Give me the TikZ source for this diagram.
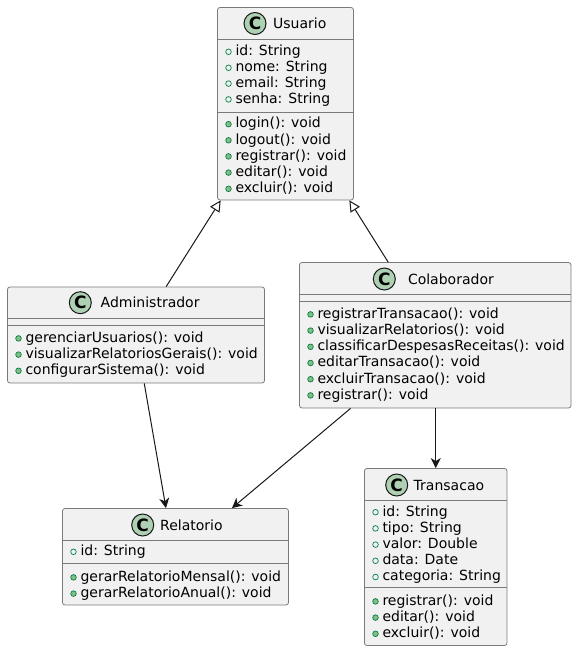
\documentclass[tikz,border=0pt]{standalone}
\usepackage{fontspec}
\setmainfont{DejaVu Sans}
\usetikzlibrary{arrows.meta,calc}
\definecolor{boxbg}{HTML}{F1F1F1}
\definecolor{boxline}{HTML}{181818}
\definecolor{frameline}{HTML}{7A7A7A}
\definecolor{iconbg}{HTML}{ADD1B2}
\definecolor{visgreen}{HTML}{038048}
\definecolor{visfill}{HTML}{84BE84}
\tikzset{
  classbox/.style={draw=frameline, fill=boxbg, line width=0.8pt, rounded corners=2.5pt, inner sep=0pt},
  sepline/.style={draw=frameline, line width=0.8pt},
  member/.style={anchor=base west, inner sep=0pt, font=\fontsize{14}{16}\selectfont, text=black},
  cname/.style={anchor=base west, inner sep=0pt, font=\fontsize{14}{16}\selectfont, text=black},
  cicon/.style={circle, draw=boxline, fill=iconbg, line width=1pt, minimum size=22pt, inner sep=0pt, font=\fontsize{17}{17}\selectfont\bfseries},
  attrmark/.style={draw=visgreen, line width=0.7pt, fill=none},
  methmark/.style={draw=visgreen, line width=0.7pt, fill=visfill},
  genline/.style={draw=boxline, line width=1pt, -{Triangle[open, length=11pt, width=11pt]}},
  assoc/.style={draw=boxline, line width=1pt, -{Stealth[length=10pt, width=10pt, inset=3pt]}},
}
\newcommand{\attrline}[4]{%
  \draw[attrmark] (#2+11,#3) circle (2.8);
  \node[member] (#1) at (#2+17.8,#3+3.8) {#4};}
\newcommand{\methline}[4]{%
  \draw[methmark] (#2+11,#3) circle (2.8);
  \node[member] (#1) at (#2+17.8,#3+3.8) {#4};}
\begin{document}
\begin{tikzpicture}[x=1pt, y=-1pt]
\useasboundingbox (0,0) rectangle (577,652);

% ---------- Usuario ----------
\node[classbox, minimum width=136pt, minimum height=192.5pt] (usu) at (285.5,103.75) {};
\draw[sepline] (217.5,39.5) -- (353.5,39.5);
\draw[sepline] (217.5,112.5) -- (353.5,112.5);
\node[cicon] (usuC) at (255,23.5) {C};
\node[cname] (usuN) at (273,28.6) {Usuario};
\attrline{u1}{217.5}{51.8}{id: String}
\attrline{u2}{217.5}{67.8}{nome: String}
\attrline{u3}{217.5}{83.6}{email: String}
\attrline{u4}{217.5}{99.4}{senha: String}
\methline{u5}{217.5}{124.2}{login(): void}
\methline{u6}{217.5}{140.3}{logout(): void}
\methline{u7}{217.5}{156.4}{registrar(): void}
\methline{u8}{217.5}{172.6}{editar(): void}
\methline{u9}{217.5}{188.8}{excluir(): void}

% ---------- Administrador ----------
\node[classbox, minimum width=257pt, minimum height=96pt] (adm) at (136,335) {};
\draw[sepline] (7.5,318.5) -- (264.5,318.5);
\draw[sepline] (7.5,325.7) -- (264.5,325.7);
\node[cicon] (admC) at (80.3,302.7) {C};
\node[cname] (admN) at (100.5,307.8) {Administrador};
\methline{a1}{7.5}{338.4}{gerenciarUsuarios(): void}
\methline{a2}{7.5}{354.6}{visualizarRelatoriosGerais(): void}
\methline{a3}{7.5}{370.8}{configurarSistema(): void}

% ---------- Colaborador ----------
\node[classbox, minimum width=271.5pt, minimum height=145.5pt] (col) at (435.25,335.25) {};
\draw[sepline] (299.5,294.3) -- (571,294.3);
\draw[sepline] (299.5,301.7) -- (571,301.7);
\node[cicon] (colC) at (384.3,279) {C};
\node[cname] (colN) at (407.8,284.1) {Colaborador};
\methline{c1}{299.5}{314.4}{registrarTransacao(): void}
\methline{c2}{299.5}{330.6}{visualizarRelatorios(): void}
\methline{c3}{299.5}{346.8}{classificarDespesasReceitas(): void}
\methline{c4}{299.5}{363.0}{editarTransacao(): void}
\methline{c5}{299.5}{379.2}{excluirTransacao(): void}
\methline{c6}{299.5}{395.4}{registrar(): void}

% ---------- Relatorio ----------
\node[classbox, minimum width=226pt, minimum height=96.5pt] (rel) at (175.5,556.75) {};
\draw[sepline] (62.5,540.7) -- (288.5,540.7);
\draw[sepline] (62.5,563.3) -- (288.5,563.3);
\node[cicon] (relC) at (142.7,525) {C};
\node[cname] (relN) at (160,530.1) {Relatorio};
\attrline{r1}{62.5}{551.8}{id: String}
\methline{r2}{62.5}{577.4}{gerarRelatorioMensal(): void}
\methline{r3}{62.5}{593.6}{gerarRelatorioAnual(): void}

% ---------- Transacao ----------
\node[classbox, minimum width=142.5pt, minimum height=177pt] (tra) at (435.75,557) {};
\draw[sepline] (364.5,500.7) -- (507,500.7);
\draw[sepline] (364.5,587.7) -- (507,587.7);
\node[cicon] (traC) at (396.7,485) {C};
\node[cname] (traN) at (413.5,490.1) {Transacao};
\attrline{t1}{364.5}{512.2}{id: String}
\attrline{t2}{364.5}{528.4}{tipo: String}
\attrline{t3}{364.5}{544.6}{valor: Double}
\attrline{t4}{364.5}{560.8}{data: Date}
\attrline{t5}{364.5}{577.0}{categoria: String}
\methline{t6}{364.5}{601.4}{registrar(): void}
\methline{t7}{364.5}{617.6}{editar(): void}
\methline{t8}{364.5}{633.8}{excluir(): void}

% ---------- Connectors ----------
\draw[genline] ($(adm.north west)!0.617!(adm.north east)$) -- ($(usu.south west)!0.026!(usu.south east)$);
\draw[genline] ($(col.north west)!0.327!(col.north east)$) -- ($(usu.south west)!0.967!(usu.south east)$);
\draw[assoc] ($(adm.south west)!0.532!(adm.south east)$) -- ($(rel.north west)!0.458!(rel.north east)$);
\draw[assoc] ($(col.south west)!0.189!(col.south east)$) -- ($(rel.north west)!0.749!(rel.north east)$);
\draw[assoc] (col.south -| tra.north) -- (tra.north);
\end{tikzpicture}
\end{document}
